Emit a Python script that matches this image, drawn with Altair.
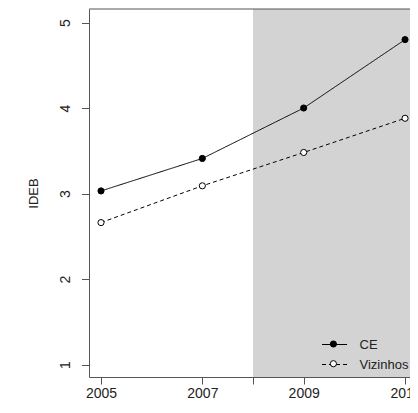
import altair as alt
import pandas as pd

years = [2005, 2007, 2009, 2011]
ce_values = [3.03, 3.41, 4.00, 4.80]
viz_values = [2.66, 3.09, 3.48, 3.88]
series_names = ["CE", "Vizinhos"]
x_ticks = [2005, 2007, 2008, 2009, 2011]
y_ticks = [1, 2, 3, 4, 5]
shade_start = 2008
shade_end = 2011.24

rows = []
for y, v in zip(years, ce_values):
    rows.append({"year": y, "value": v, "series": "CE"})
for y, v in zip(years, viz_values):
    rows.append({"year": y, "value": v, "series": "Vizinhos"})
df = pd.DataFrame(rows)
shade = pd.DataFrame({"x": [shade_start], "x2": [shade_end]})

FONT = "Liberation Sans"
TXT = "#222222"
AX = "#555555"

xscale = alt.Scale(domain=[2004.763, 2011.098], nice=False, zero=False)
yscale = alt.Scale(domain=[0.854, 5.158], nice=False, zero=False)

xaxis = alt.Axis(values=x_ticks, format="d", grid=False, title=None,
                 labelExpr="datum.value == 2008 ? '' : datum.label",
                 labelFlush=False, labelOverlap=False,
                 tickSize=7, tickColor=AX, domainColor=AX, labelColor=TXT,
                 labelFont=FONT, labelFontSize=14, labelBaseline="top",
                 labelPadding=2)
yaxis = alt.Axis(values=y_ticks, format="d", grid=False, title="IDEB",
                 labelAngle=270, labelAlign="center", labelBaseline="bottom",
                 labelPadding=9, labelFlush=False, labelOverlap=False,
                 tickSize=7.5, tickColor=AX, domainColor=AX, labelColor=TXT,
                 labelFont=FONT, labelFontSize=14,
                 titleFont=FONT, titleFontSize=13, titleFontWeight="normal",
                 titleColor=TXT, titleAngle=270, titleAlign="center",
                 titleBaseline="alphabetic", titleX=-52, titleY=184)

rect = alt.Chart(shade).mark_rect(color="#d3d3d3", clip=True).encode(
    x=alt.X("x:Q", scale=xscale, axis=xaxis),
    x2="x2:Q",
)

top_rule = alt.Chart(shade).mark_rule(color=AX, strokeWidth=1).encode(
    y=alt.value(0)
)

line_legend = alt.Legend(title=None, orient="none", legendX=232.5, legendY=322.5,
                         padding=0, rowPadding=-6.3, labelOffset=12,
                         labelFont=FONT, labelFontSize=13, labelColor=TXT,
                         symbolSize=625, symbolStrokeWidth=1,
                         symbolStrokeColor="black", symbolOpacity=1)

lines = alt.Chart(df).mark_line(color="black", strokeWidth=1).encode(
    x=alt.X("year:Q", scale=xscale, axis=xaxis),
    y=alt.Y("value:Q", scale=yscale, axis=yaxis),
    detail="series:N",
    strokeDash=alt.StrokeDash("series:N",
                              scale=alt.Scale(domain=series_names, range=[[1, 0], [4, 3]]),
                              legend=line_legend),
)

dot_legend = alt.Legend(title=None, orient="none", legendX=237.9, legendY=328.5,
                        padding=0, rowPadding=5.7, labelOpacity=0,
                        labelFont=FONT, labelFontSize=13,
                        symbolType="circle", symbolSize=38, symbolStrokeWidth=1,
                        symbolStrokeColor="black", symbolOpacity=1)

points = alt.Chart(df).mark_point(filled=True, shape="circle", size=38,
                                  stroke="black", strokeWidth=1, opacity=1).encode(
    x=alt.X("year:Q", scale=xscale, axis=xaxis),
    y=alt.Y("value:Q", scale=yscale, axis=yaxis),
    fill=alt.Fill("series:N", scale=alt.Scale(domain=series_names, range=["black", "white"]),
                  legend=dot_legend),
)

chart = alt.layer(rect, top_rule, lines, points).resolve_legend(
    fill="independent", strokeDash="independent"
).properties(
    width=321, height=368,
    padding={"left": 81, "top": 1, "right": 0, "bottom": 24},
    autosize=alt.AutoSizeParams(type="none"),
    background="white",
).configure_view(strokeWidth=0)

chart.save("out.html", embed_options={"renderer": "svg", "actions": False})
